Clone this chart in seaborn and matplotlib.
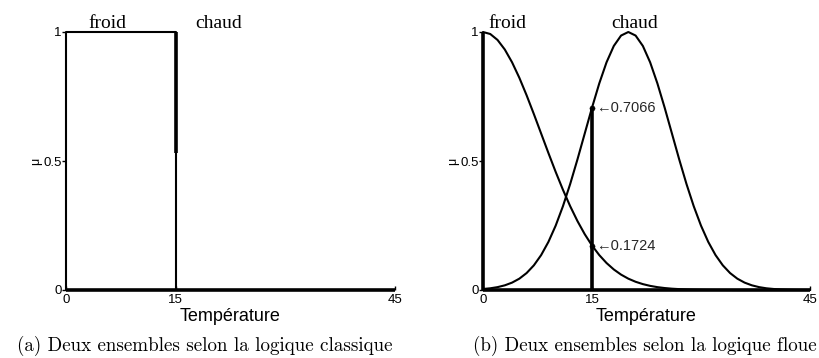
import matplotlib
matplotlib.use("Agg")
import matplotlib.pyplot as plt
import seaborn as sns
import pandas as pd

sns.set_theme(style="white")
plt.rcParams['font.family'] = ['Liberation Sans', 'DejaVu Sans']

# ---- Ensembles classiques ----
froid_classique_x = [0, 0, 15, 15]
froid_classique_y = [0, 1, 1, 0]
chaud_classique_x = [15, 15]
chaud_classique_y = [0.53, 1]
base_x = [0, 45]
base_y = [0, 0]

# ---- Ensembles flous (échantillonnés tous les degrés, 0..45) ----
temperature = list(range(46))
froid_flou = [1.0, 0.9922, 0.9692, 0.9321, 0.8825, 0.8226, 0.7548, 0.6819,
              0.6065, 0.5311, 0.4578, 0.3886, 0.3247, 0.2671, 0.2163, 0.1724,
              0.1353, 0.1046, 0.0796, 0.0596, 0.0439, 0.0319, 0.0228, 0.0160,
              0.0111, 0.0076, 0.0051, 0.0034, 0.0022, 0.0014, 0.0009, 0.0005,
              0.0003, 0.0002, 0.0001, 0.0, 0.0, 0.0, 0.0, 0.0, 0.0, 0.0, 0.0,
              0.0, 0.0, 0.0]
chaud_flou = [0.0039, 0.0066, 0.0111, 0.0181, 0.0286, 0.0439, 0.0657, 0.0956,
              0.1353, 0.1863, 0.2494, 0.3247, 0.4111, 0.5063, 0.6065, 0.7066,
              0.8007, 0.8825, 0.9459, 0.9862, 1.0, 0.9862, 0.9459, 0.8825,
              0.8007, 0.7066, 0.6065, 0.5063, 0.4111, 0.3247, 0.2494, 0.1863,
              0.1353, 0.0956, 0.0657, 0.0439, 0.0286, 0.0181, 0.0111, 0.0066,
              0.0039, 0.0022, 0.0012, 0.0006, 0.0003, 0.0002]
mesure_x = 15
mesure_degres = [0.7066, 0.1724]

xticks = [0, 15, 45]
yticks = [0, 0.5, 1]
labels_ensembles = ["froid", "chaud"]
legendes = ["(a) Deux ensembles selon la logique classique",
            "(b) Deux ensembles selon la logique floue"]

fig = plt.figure(figsize=(8.19, 3.58), dpi=100)
ax_a = fig.add_axes([66 / 819, 1 - 290 / 358, 329 / 819, 258 / 358])
ax_b = fig.add_axes([483 / 819, 1 - 290 / 358, 327 / 819, 258 / 358])

THIN = 1.5
THICK = 2.6


def line(ax, x, y, lw):
    sns.lineplot(x=x, y=y, ax=ax, color="black", lw=lw, sort=False,
                 estimator=None, solid_capstyle="butt", clip_on=False)


# (a) logique classique
line(ax_a, base_x, base_y, THICK)
line(ax_a, froid_classique_x, froid_classique_y, THIN)
line(ax_a, chaud_classique_x, chaud_classique_y, THICK)

# (b) logique floue
df = pd.DataFrame({"T": temperature, "froid": froid_flou, "chaud": chaud_flou})
line(ax_b, base_x, base_y, THICK)
line(ax_b, [0, 0], [0, 1], THICK)
sns.lineplot(data=df, x="T", y="froid", ax=ax_b, color="black", lw=THIN,
             clip_on=False)
sns.lineplot(data=df, x="T", y="chaud", ax=ax_b, color="black", lw=THIN,
             clip_on=False)
line(ax_b, [mesure_x, mesure_x], [0, mesure_degres[0]], THICK)
sns.scatterplot(x=[mesure_x] * 2, y=mesure_degres, ax=ax_b, color="black",
                s=14, edgecolor="black", zorder=5, clip_on=False)
for v in mesure_degres:
    ax_b.text(mesure_x + 0.5, v, "\u2190" + f"{v:.4f}", fontsize=10.5,
              va="center", ha="left", family=['Liberation Sans', 'DejaVu Sans'])

label_pos = {ax_a: (5.6, 20.9), ax_b: (3.3, 20.9)}
legende_x = {ax_a: 205 / 819, ax_b: 645 / 819}
for ax, leg in zip([ax_a, ax_b], legendes):
    ax.set_xlim(0, 45)
    ax.set_ylim(0, 1)
    for s in ax.spines.values():
        s.set_visible(False)
    ax.set_xticks(xticks)
    ax.set_xticklabels([str(t) for t in xticks])
    ax.set_yticks(yticks)
    ax.set_yticklabels(["0", "0.5", "1"])
    ax.tick_params(axis="x", direction="in", length=3, width=1, pad=3,
                   labelsize=9.5, bottom=True, colors="black")
    ax.tick_params(axis="y", direction="out", length=3, width=1, pad=0,
                   labelsize=9.5, left=True, colors="black")
    ax.set_xlabel("Température", fontsize=13, labelpad=1, color="black")
    ax.set_ylabel("\u03bc", fontsize=9, labelpad=1, color="black")
    px, cx = label_pos[ax]
    for name, xpos in zip(labels_ensembles, (px, cx)):
        ax.text(xpos, 1.016, name, ha="center", va="baseline", fontsize=14,
                family="Liberation Serif", color="black")
    fig.text(legende_x[ax], 1 - 346 / 358, leg, ha="center", va="center",
             fontsize=13.7, family="cmr10", color="black")

fig.savefig("out.png", dpi=100)
